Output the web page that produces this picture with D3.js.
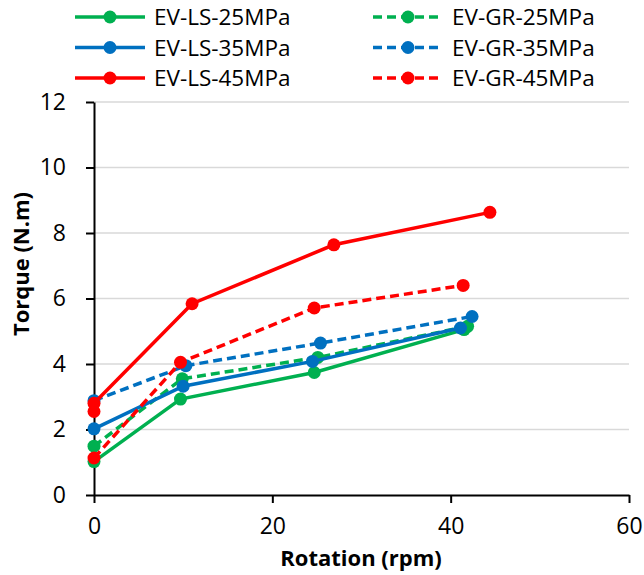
<!DOCTYPE html>
<meta charset="utf-8">
<style>
body{ margin:0; background:#fff; }
svg text{ font-family: "Open Sans", sans-serif; fill:#000; }
.axis text{ font-size:23px; font-family: "Open Sans", sans-serif; }
.axis path, .axis line{ stroke:#000; stroke-width:2; fill:none; }
.grid line{ stroke:#d9d9d9; stroke-width:1.5; }
.title{ font-size:22px; font-weight:bold; }
.legend text{ font-size:22.5px; }
</style>
<svg class="chart" width="644" height="575"></svg>
<script src="https://cdn.jsdelivr.net/npm/d3@7/dist/d3.min.js"></script>
<script>
// series data (rotation rpm, torque N.m)
var names = ["EV-LS-25MPa","EV-LS-35MPa","EV-LS-45MPa","EV-GR-25MPa","EV-GR-35MPa","EV-GR-45MPa"];
var colors = ["#00b050","#0070c0","#ff0000","#00b050","#0070c0","#ff0000"];
var dashed = [false,false,false,true,true,true];

var ls25x = [0, 9.7, 24.7, 41.5], ls25y = [1.02, 2.93, 3.74, 5.05];
var ls35x = [0, 10.0, 24.5, 41.1], ls35y = [2.02, 3.32, 4.08, 5.1];
var ls45x = [0, 0, 11.0, 26.9, 44.4], ls45y = [2.55, 2.8, 5.84, 7.64, 8.63];
var gr25x = [0, 9.9, 25.1, 41.9], gr25y = [1.49, 3.55, 4.2, 5.15];
var gr35x = [0, 10.3, 25.4, 42.4], gr35y = [2.88, 3.95, 4.64, 5.45];
var gr45x = [0, 9.7, 24.7, 41.4], gr45y = [1.13, 4.05, 5.71, 6.4];

var xTicks = [0, 20, 40, 60];
var yTicks = [0, 2, 4, 6, 8, 10, 12];

var allX = [ls25x, ls35x, ls45x, gr25x, gr35x, gr45x];
var allY = [ls25y, ls35y, ls45y, gr25y, gr35y, gr45y];
var series = names.map(function(n, i){
	return {name:n, color:colors[i], dashed:dashed[i],
		pts: allX[i].map(function(x, j){ return {x:x, y:allY[i][j]}; })};
});

var x = d3.scaleLinear().domain([0, 60]).range([94, 629]);
var y = d3.scaleLinear().domain([0, 12]).range([495, 102]);

var svg = d3.select(".chart");

// gridlines
svg.append("g").attr("class","grid")
	.selectAll("line").data(yTicks.slice(1)).enter().append("line")
	.attr("x1", x(0)).attr("x2", x(60))
	.attr("y1", function(d){ return y(d); }).attr("y2", function(d){ return y(d); });

svg.append("g").attr("class","x axis")
	.attr("transform","translate(0," + y(0) + ")")
	.call(d3.axisBottom(x).tickValues(xTicks).tickSize(8).tickPadding(15).tickSizeOuter(0));

svg.append("g").attr("class","y axis")
	.attr("transform","translate(" + x(0) + ",0)")
	.call(d3.axisLeft(y).tickValues(yTicks).tickSize(8).tickPadding(20).tickSizeOuter(0));

// axis titles
svg.append("text").attr("class","title")
	.attr("x", 361).attr("y", 566).attr("text-anchor","middle")
	.text("Rotation (rpm)");
svg.append("text").attr("class","title")
	.attr("transform","translate(29,264) rotate(-90)").attr("text-anchor","middle")
	.text("Torque (N.m)");

// lines and markers
var line = d3.line().x(function(d){ return x(d.x); }).y(function(d){ return y(d.y); });
var order = [0, 3, 1, 4, 2, 5];
order.forEach(function(i){
	var s = series[i];
	var g = svg.append("g");
	g.append("path").datum(s.pts)
		.attr("d", line)
		.attr("fill","none")
		.attr("stroke", s.color)
		.attr("stroke-width", 3.5)
		.attr("stroke-dasharray", s.dashed ? "9,5" : null);
	g.selectAll("circle").data(s.pts).enter().append("circle")
		.attr("cx", function(d){ return x(d.x); })
		.attr("cy", function(d){ return y(d.y); })
		.attr("r", 6.5)
		.attr("fill", s.color);
});

// legend
var leg = svg.append("g").attr("class","legend");
series.forEach(function(s, i){
	var col = s.dashed ? 1 : 0, row = i % 3;
	var lx = col ? 373 : 75, ly = 17 + row * 30.5;
	var g = leg.append("g").attr("transform","translate(" + lx + "," + ly + ")");
	g.append("line").attr("x1", 0).attr("x2", 70).attr("y1", 0).attr("y2", 0)
		.attr("stroke", s.color).attr("stroke-width", 3.5)
		.attr("stroke-dasharray", s.dashed ? "9,5" : null);
	g.append("circle").attr("cx", 35).attr("cy", 0).attr("r", 6.5).attr("fill", s.color);
	g.append("text").attr("x", 79).attr("y", 8).text(s.name);
});
</script>
